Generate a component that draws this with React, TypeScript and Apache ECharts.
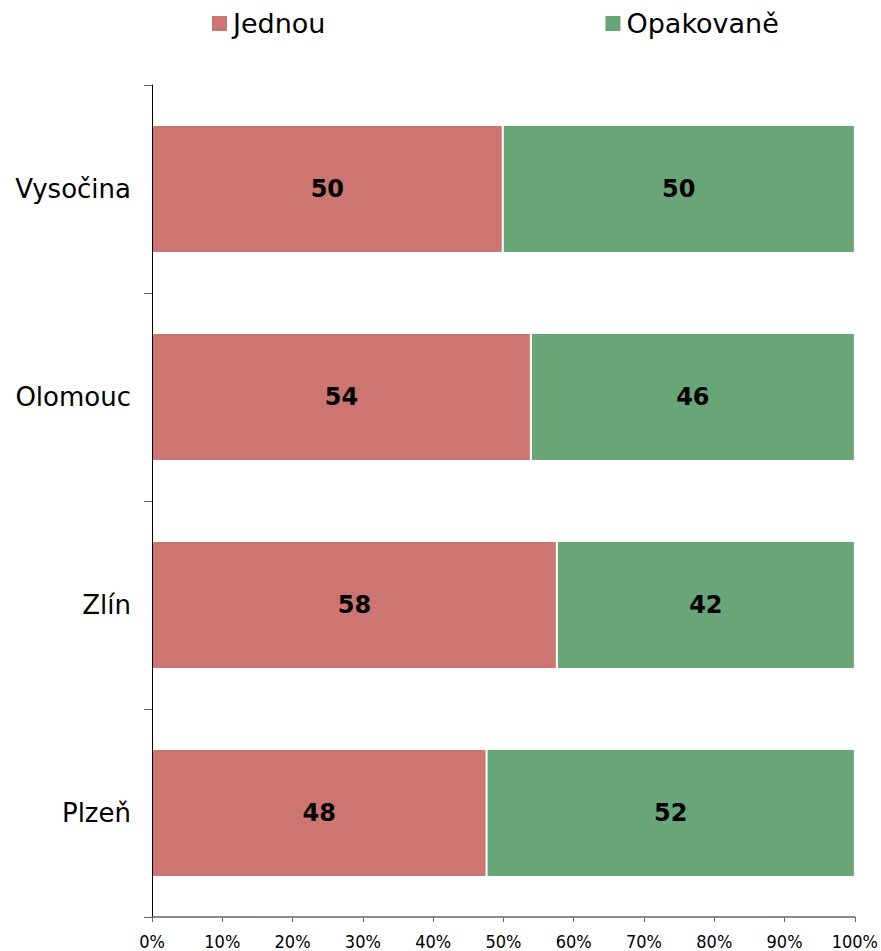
import React, { useEffect, useRef } from "react";
import * as echarts from "echarts";

const categories = ["Vysočina", "Olomouc", "Zlín", "Plzeň"];
const jednou = [49.9, 53.9, 57.6, 47.6];
const opakovane = [50.1, 46.1, 42.4, 52.4];
const seriesNames = ["Jednou", "Opakovaně"];
const colors = ["#CD7570", "#68A677"];

export default function App() {
  const ref = useRef<HTMLDivElement>(null);
  useEffect(() => {
    if (!ref.current) return;
    const chart = echarts.init(ref.current, null, { renderer: "svg" });
    const labelCfg = {
      show: true,
      position: "inside",
      color: "#000",
      fontFamily: "DejaVu Sans",
      fontWeight: "bold",
      fontSize: 24,
      formatter: (p: any) => String(Math.round(p.value)),
    };
    chart.setOption({
      animation: false,
      backgroundColor: "#fff",
      textStyle: { fontFamily: "DejaVu Sans" },
      legend: {
        data: seriesNames,
        top: 5,
        left: 205,
        itemGap: 278,
        itemWidth: 17,
        itemHeight: 17,
        icon: "rect",
        textStyle: { fontSize: 27, color: "#000", fontFamily: "DejaVu Sans" },
      },
      grid: { left: 152, right: 26, top: 85, bottom: 34, containLabel: false },
      xAxis: {
        type: "value",
        min: 0,
        max: 100,
        interval: 10,
        z: 5,
        axisLine: { show: true, lineStyle: { color: "#666", width: 1.5 } },
        axisTick: { show: true, length: 5, lineStyle: { color: "#666" } },
        splitLine: { show: false },
        axisLabel: {
          formatter: "{value}%",
          fontFamily: "DejaVu Sans Condensed",
          fontSize: 18,
          color: "#000",
          margin: 15,
        },
      },
      yAxis: {
        type: "category",
        data: categories,
        inverse: true,
        z: 5,
        axisLine: { show: true, lineStyle: { color: "#000", width: 1 } },
        axisTick: { show: true, length: 8, lineStyle: { color: "#666" } },
        axisLabel: { fontSize: 26, color: "#000", fontFamily: "DejaVu Sans", margin: 21 },
        splitLine: { show: false },
      },
      series: [
        {
          name: seriesNames[0],
          type: "bar",
          stack: "total",
          data: jednou,
          barWidth: 128,
          itemStyle: { color: colors[0], borderColor: "#fff", borderWidth: 1 },
          label: labelCfg,
        },
        {
          name: seriesNames[1],
          type: "bar",
          stack: "total",
          data: opakovane,
          barWidth: 128,
          itemStyle: { color: colors[1], borderColor: "#fff", borderWidth: 1 },
          label: labelCfg,
        },
      ],
    });
    return () => chart.dispose();
  }, []);
  return <div ref={ref} style={{ width: 881, height: 951, position: "absolute", left: 0, top: 0 }} />;
}
